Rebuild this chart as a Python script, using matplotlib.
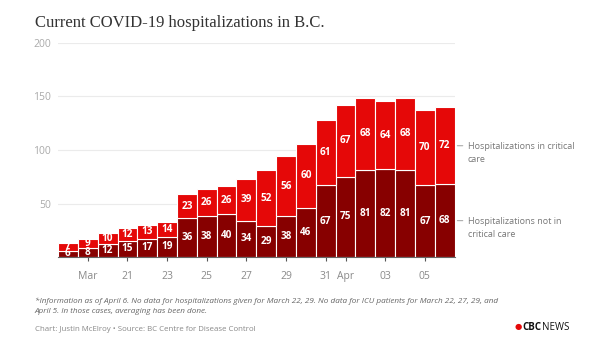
import matplotlib.pyplot as plt
import numpy as np

# Data: March 18 - April 6
days = ["Mar 18", "Mar 19", "Mar 20", "Mar 21", "Mar 22", "Mar 23", "Mar 24",
        "Mar 25", "Mar 26", "Mar 27", "Mar 28", "Mar 29", "Mar 30", "Mar 31",
        "Apr 1", "Apr 2", "Apr 3", "Apr 4", "Apr 5", "Apr 6"]
not_critical = [6, 8, 12, 15, 17, 19, 36, 38, 40, 34, 29, 38, 46, 67, 75, 81, 82, 81, 67, 68]
critical = [7, 9, 10, 12, 13, 14, 23, 26, 26, 39, 52, 56, 60, 61, 67, 68, 64, 68, 70, 72]
tick_idx = [1, 3, 5, 7, 9, 11, 13, 14, 16, 18]
tick_labels = ["Mar", "21", "23", "25", "27", "29", "31", "Apr", "03", "05"]

dark = "#870000"
bright = "#e50808"
grey = "#8a8a8a"

plt.rcParams['font.family'] = ['Open Sans', 'DejaVu Sans']

fig = plt.figure(figsize=(6, 3.55), dpi=100)
ax = fig.add_axes([0.0967, 0.276, 0.661, 0.603])

x = np.arange(len(days))
ax.bar(x, not_critical, width=1.0, color=dark, edgecolor="white", linewidth=0.8, zorder=2)
ax.bar(x, critical, width=1.0, bottom=not_critical, color=bright, edgecolor="white",
       linewidth=0.8, zorder=2)

for i in range(len(days)):
    ax.text(x[i], not_critical[i] / 2, str(not_critical[i]), ha="center", va="center",
            color="white", fontsize=7.2, fontweight="bold", zorder=3)
    ax.text(x[i], not_critical[i] + critical[i] / 2, str(critical[i]), ha="center",
            va="center", color="white", fontsize=7.2, fontweight="bold", zorder=3)

ax.set_xlim(-0.5, len(days) - 0.5)
ax.set_ylim(0, 200)
ax.set_yticks([50, 100, 150, 200])
ax.yaxis.grid(True, color="#ebebeb", linewidth=0.8, zorder=0)
ax.tick_params(axis="y", length=0, labelsize=7.5, labelcolor="#aaaaaa", pad=5)
ax.set_xticks(tick_idx)
ax.set_xticklabels(tick_labels)
ax.tick_params(axis="x", length=3, color="#555555", labelsize=7.5, labelcolor=grey, pad=7)
for s in ["top", "right", "left"]:
    ax.spines[s].set_visible(False)
ax.spines["bottom"].set_color("#666666")
ax.spines["bottom"].set_linewidth(0.8)
ax.set_axisbelow(True)

# right-side labels
last = len(days) - 1
for yv, label in [(not_critical[last] + critical[last] / 2, "Hospitalizations in critical\ncare"),
                  (not_critical[last] / 2, "Hospitalizations not in\ncritical care")]:
    ax.annotate("", xy=(last + 0.5, yv), xytext=(last + 1.05, yv),
                arrowprops=dict(arrowstyle="-", color="#aaaaaa", lw=0.8),
                annotation_clip=False)
    ax.text(last + 1.15, yv + 3, label, ha="left", va="top", fontsize=6.5,
            color="#777777", linespacing=1.5)

fig.text(0.058, 0.925, "Current COVID-19 hospitalizations in B.C.", fontsize=12,
         family="Liberation Serif", color="#333333")
fig.text(0.058, 0.138, "*Information as of April 6. No data for hospitalizations given for March 22, 29. "
         "No data for ICU patients for March 22, 27, 29, and\nApril 5. In those cases, averaging has been done.",
         fontsize=5.9, style="italic", color="#666666", va="center", linespacing=1.6)
fig.text(0.058, 0.072, "Chart: Justin McElroy \u2022 Source: BC Centre for Disease Control",
         fontsize=5.7, color="#888888", va="center")
fig.text(0.857, 0.078, "\u25cf", fontsize=6, color="#e50808", va="center")
fig.text(0.871, 0.078, "CBC", fontsize=7, fontweight="bold", color="#111111", va="center")
fig.text(0.903, 0.078, "NEWS", fontsize=7, color="#111111", va="center")

fig.savefig("out.png", dpi=100)
